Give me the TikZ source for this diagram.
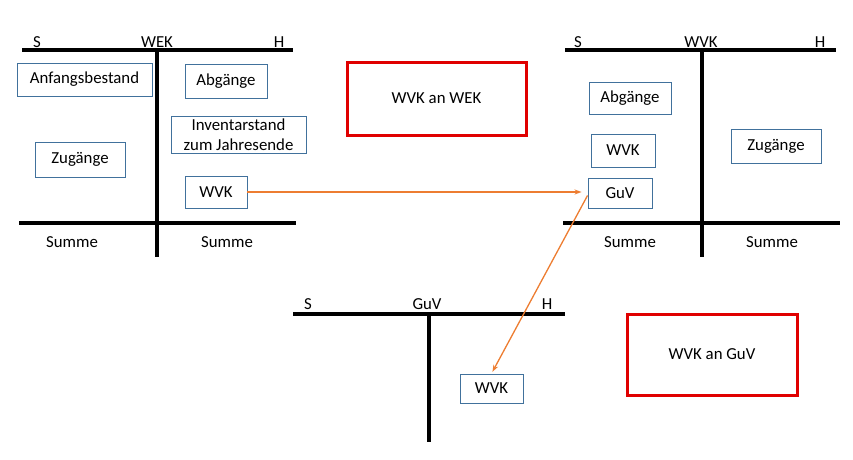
\documentclass[tikz,border=0pt]{standalone}
\usepackage{fontspec}
\setmainfont{Carlito}
\usepackage{tikz}
\usetikzlibrary{arrows.meta}
\definecolor{boxblue}{HTML}{41719C}
\definecolor{rahmenrot}{HTML}{E00000}
\definecolor{pfeilorange}{HTML}{ED7D31}

\begin{document}
\begin{tikzpicture}[x=1pt,y=-1pt,
        every node/.style={font=\fontsize{16.8}{19.5}\selectfont},
        konto/.style={line width=4pt},
        posten/.style={draw=boxblue, line width=0.9pt, inner sep=0pt, align=center},
        rahmen/.style={draw=rahmenrot, line width=3pt, inner sep=0pt},
        buchung/.style={draw=pfeilorange, line width=1.3pt, -{Stealth[length=7pt,width=5pt]}}]
    \useasboundingbox (0,0) rectangle (853,459);
    \draw[konto] (22,50) -- (293,50);
    \draw[konto] (157,50) -- (157,257);
    \draw[konto] (19,223) -- (296,223);
    \node (wekS) at (37,42) {S};
    \node (wek) at (157,42) {WEK};
    \node (wekH) at (279,42) {H};
    \node (wekSumS) at (72,242) {Summe};
    \node (wekSumH) at (227,242) {Summe};
    \node[posten, minimum width=135pt, minimum height=33pt] (anfang) at (84.5,79.5) {Anfangsbestand};
    \node[posten, minimum width=90pt, minimum height=35pt] (zugWEK) at (80,159.5) {Zug\"ange};
    \node[posten, minimum width=82pt, minimum height=34pt] (abgWEK) at (226,81) {Abg\"ange};
    \node[posten, minimum width=135pt, minimum height=37pt] (inventar) at (238.5,134.5) {Inventarstand\\zum Jahresende};
    \node[posten, minimum width=62pt, minimum height=32pt] (wvkWEK) at (216,192) {WVK};
    \draw[konto] (565,50) -- (836,50);
    \draw[konto] (702,50) -- (702,257);
    \draw[konto] (563,223) -- (840,223);
    \node (wvkS) at (578,42) {S};
    \node (wvk) at (701,42) {WVK};
    \node (wvkH) at (820,42) {H};
    \node (wvkSumS) at (630,242) {Summe};
    \node (wvkSumH) at (772,242) {Summe};
    \node[posten, minimum width=82pt, minimum height=32pt] (abgWVK) at (630,98) {Abg\"ange};
    \node[posten, minimum width=64pt, minimum height=33pt] (wvkWVK) at (623,150.5) {WVK};
    \node[posten, minimum width=64pt, minimum height=30pt] (guvWVK) at (620,193) {GuV};
    \node[posten, minimum width=90pt, minimum height=34pt] (zugWVK) at (776,146) {Zug\"ange};
    \draw[konto] (293,314) -- (565,314);
    \draw[konto] (429,314) -- (429,442);
    \node (guvS) at (308,304) {S};
    \node (guv) at (427,304) {GuV};
    \node (guvH) at (547,304) {H};
    \node[posten, minimum width=63pt, minimum height=29pt] (wvkGuV) at (491.5,388.5) {WVK};
    \node[rahmen, minimum width=179pt, minimum height=73pt] (satz1) at (436.5,98.5) {WVK an WEK};
    \node[rahmen, minimum width=170pt, minimum height=81pt] (satz2) at (712,354.5) {WVK an GuV};
    \draw[buchung, shorten >=6pt] (wvkWEK.east) -- (guvWVK.west |- wvkWEK.east);
    \draw[buchung, shorten >=2pt] (guvWVK.south west) ++(0,-13) -- (wvkGuV.north);
\end{tikzpicture}
\end{document}
